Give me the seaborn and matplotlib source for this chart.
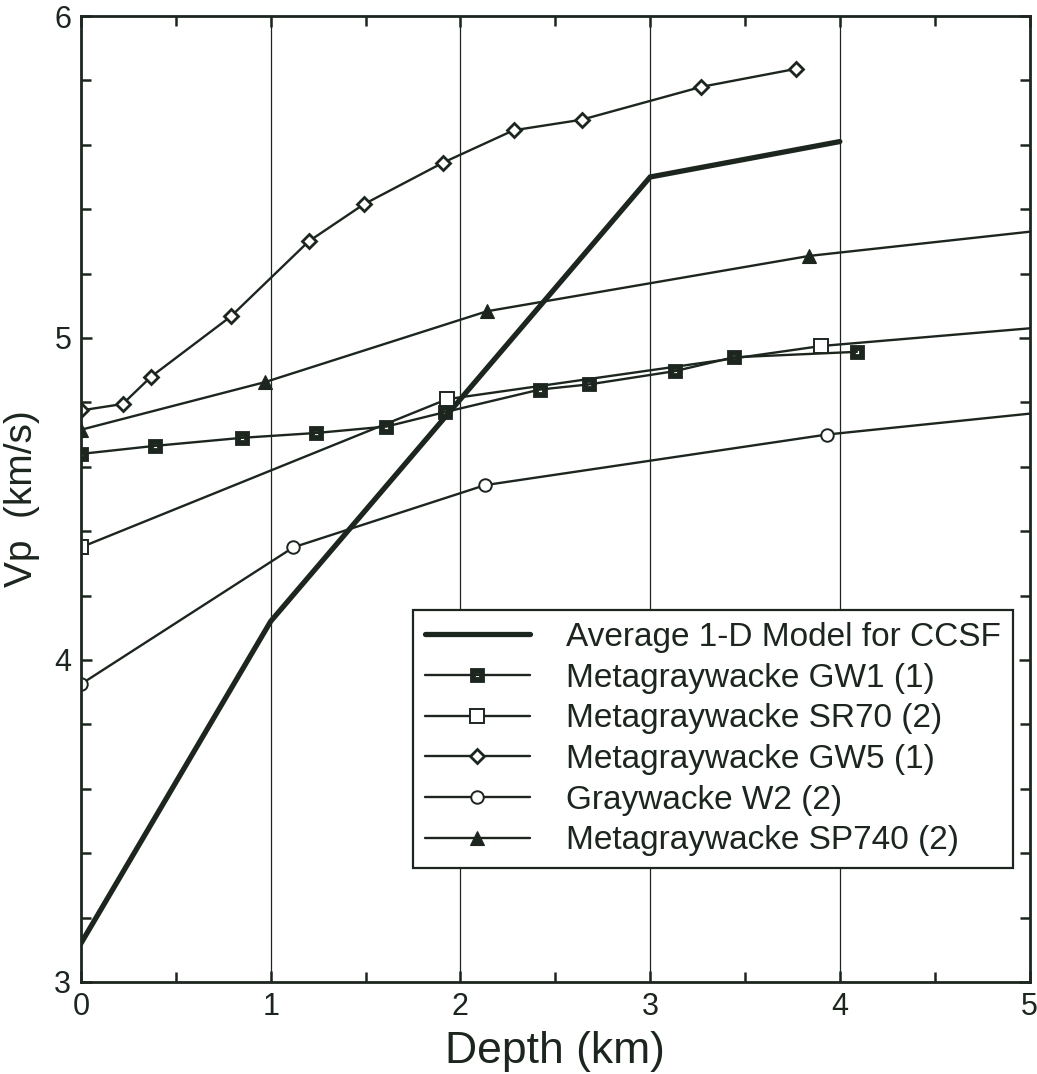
import numpy as np
import matplotlib
matplotlib.use("Agg")
import matplotlib.pyplot as plt
from matplotlib.path import Path
from matplotlib.ticker import MultipleLocator
import seaborn as sns

# Average 1-D velocity model for the CCSF
avg_depth = [0.0, 1.0, 3.0, 4.0]
avg_vp = [3.12, 4.12, 5.50, 5.61]

# Laboratory measurements (depth in km, Vp in km/s)
gw1_depth = [0.0, 0.39, 0.85, 1.24, 1.61, 1.92, 2.42, 2.68, 3.13, 3.44, 4.09]
gw1_vp = [4.64, 4.665, 4.69, 4.705, 4.725, 4.77, 4.84, 4.856, 4.897, 4.94, 4.957]

sr70_depth = [0.0, 1.93, 3.90, 5.0]
sr70_vp = [4.35, 4.81, 4.975, 5.03]

gw5_depth = [0.0, 0.22, 0.37, 0.79, 1.20, 1.49, 1.91, 2.28, 2.64, 3.27, 3.77]
gw5_vp = [4.775, 4.795, 4.88, 5.067, 5.30, 5.415, 5.545, 5.645, 5.678, 5.78, 5.836]

w2_depth = [0.0, 1.12, 2.13, 3.93, 5.0]
w2_vp = [3.925, 4.35, 4.543, 4.70, 4.765]

sp740_depth = [0.0, 0.97, 2.14, 3.84, 5.0]
sp740_vp = [4.715, 4.863, 5.083, 5.255, 5.33]

labels = [
    "Average 1-D Model for CCSF",
    "Metagraywacke GW1 (1)",
    "Metagraywacke SR70 (2)",
    "Metagraywacke GW5 (1)",
    "Graywacke W2 (2)",
    "Metagraywacke SP740 (2)",
]

ink = "#1c261f"

sns.set_theme(style="ticks")
plt.rcParams["font.family"] = ["Liberation Sans", "DejaVu Sans"]

fig = plt.figure(figsize=(10.37, 10.74), dpi=100)
ax = fig.add_axes([0.0781, 0.0857, 0.9147, 0.8994])

# filled square with a small hole in the middle
outer = [(-1, -1), (1, -1), (1, 1), (-1, 1), (-1, -1)]
inner = [(-0.25, -0.25), (-0.25, 0.25), (0.25, 0.25), (0.25, -0.25), (-0.25, -0.25)]
holed_square = Path(outer + inner,
                    [Path.MOVETO] + [Path.LINETO] * 3 + [Path.CLOSEPOLY]
                    + [Path.MOVETO] + [Path.LINETO] * 3 + [Path.CLOSEPOLY])

sns.lineplot(x=avg_depth, y=avg_vp, ax=ax, color=ink, lw=3.8,
             label=labels[0], solid_joinstyle="miter")

sns.lineplot(x=gw1_depth, y=gw1_vp, ax=ax, color=ink, lw=1.7,
             marker=holed_square, markersize=10, markerfacecolor=ink,
             markeredgecolor=ink, markeredgewidth=0.6, label=labels[1])

sns.lineplot(x=sr70_depth, y=sr70_vp, ax=ax, color=ink, lw=1.7,
             marker="s", markersize=10, markerfacecolor="white",
             markeredgecolor=ink, markeredgewidth=1.4,
             markevery=list(range(len(sr70_depth) - 1)), label=labels[2])

sns.lineplot(x=gw5_depth, y=gw5_vp, ax=ax, color=ink, lw=1.7,
             marker="D", markersize=7, markerfacecolor="white",
             markeredgecolor=ink, markeredgewidth=2.0, label=labels[3])

sns.lineplot(x=w2_depth, y=w2_vp, ax=ax, color=ink, lw=1.7,
             marker="o", markersize=9, markerfacecolor="white",
             markeredgecolor=ink, markeredgewidth=1.4,
             markevery=list(range(len(w2_depth) - 1)), label=labels[4])

sns.lineplot(x=sp740_depth, y=sp740_vp, ax=ax, color=ink, lw=1.7,
             marker="^", markersize=10, markerfacecolor=ink,
             markeredgecolor=ink, markeredgewidth=0.8,
             markevery=list(range(len(sp740_depth) - 1)), label=labels[5])

ax.set_xlim(0, 5)
ax.set_ylim(3, 6)
ax.xaxis.set_major_locator(MultipleLocator(1))
ax.xaxis.set_minor_locator(MultipleLocator(0.5))
ax.yaxis.set_major_locator(MultipleLocator(1))
ax.yaxis.set_minor_locator(MultipleLocator(0.2))

ax.grid(False)
for gx in ax.get_xticks():
    if 0 < gx < 5:
        ax.axvline(gx, color=ink, lw=0.9, zorder=0.5)

for sp in ax.spines.values():
    sp.set_visible(True)
    sp.set_color(ink)
    sp.set_linewidth(2.0)

ax.tick_params(which="both", direction="in", top=True, right=True,
               color=ink, labelcolor=ink)
ax.tick_params(which="major", length=8, width=1.8, labelsize=22, pad=7)
ax.tick_params(which="minor", length=7, width=1.8)

ax.set_xlabel("Depth (km)", fontsize=32, color=ink, labelpad=7)
ax.set_ylabel("Vp  (km/s)", fontsize=28, color=ink, labelpad=10)

leg = ax.legend(loc="lower right", bbox_to_anchor=(0.9826, 0.118),
                fontsize=24, frameon=True, fancybox=False, framealpha=1,
                edgecolor=ink, handlelength=3.15, handletextpad=1.1,
                labelspacing=0.29, borderpad=0.35, borderaxespad=0)
leg.get_frame().set_linewidth(1.6)
for t in leg.get_texts():
    t.set_color(ink)

fig.savefig("out.png", dpi=100, facecolor="white")
